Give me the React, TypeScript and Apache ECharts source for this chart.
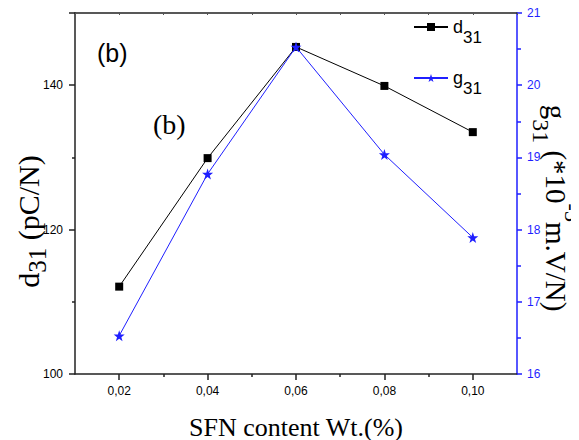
import React, { useEffect, useRef } from "react";
import * as echarts from "echarts";

const xValues = [0.02, 0.04, 0.06, 0.08, 0.1];
const d31Values = [112.1, 129.9, 145.3, 139.9, 133.5];
const g31Values = [16.53, 18.77, 20.53, 19.04, 17.89];
const xMajorTicks = [0.02, 0.04, 0.06, 0.08, 0.1];
const xMinorTicks = [0.03, 0.05, 0.07, 0.09];

const BLUE = "#1f1fff";
const SERIF = "'Liberation Serif', 'Times New Roman', serif";
const SANS = "'Liberation Sans', Arial, sans-serif";

export default function App() {
  const ref = useRef<HTMLDivElement>(null);
  useEffect(() => {
    if (!ref.current) return;
    const chart = echarts.init(ref.current, null, { renderer: "svg" });
    const axisLineBlack = { show: true, lineStyle: { color: "#222", width: 1.5 } };
    chart.setOption({
      animation: false,
      backgroundColor: "#fff",
      grid: { left: 67, top: 5, right: 62, bottom: 66, containLabel: false, outerBoundsMode: "none" },
      legend: {
        orient: "vertical",
        left: 400,
        top: 5,
        itemWidth: 34,
        itemHeight: 10,
        itemGap: 23,
        data: ["d31", "g31"],
        formatter: (name: string) =>
          name === "d31" ? "{a|d}{b|31}" : "{a|g}{b|31}",
        textStyle: {
          rich: {
            a: { fontFamily: SANS, fontSize: 18, color: "#000", lineHeight: 38, verticalAlign: "middle" },
            b: { fontFamily: SANS, fontSize: 17, color: "#000", lineHeight: 38, verticalAlign: "bottom" },
          },
        },
      },
      xAxis: [
        {
          type: "value",
          position: "bottom",
          min: 0.01,
          max: 0.11,
          name: "SFN content Wt.(%)",
          nameLocation: "middle",
          nameGap: 40,
          nameMoveOverlap: false,
          nameTextStyle: { fontFamily: SERIF, fontSize: 26, color: "#000" },
          axisLine: axisLineBlack,
          axisTick: { show: true, customValues: xMajorTicks, length: 6, lineStyle: { color: "#222", width: 1.5 } },
          axisLabel: {
            show: true,
            customValues: xMajorTicks,
            margin: 11,
            fontFamily: SANS,
            fontSize: 12,
            color: "#000",
            formatter: (v: number) => v.toFixed(2).replace(".", ","),
          },
          splitLine: { show: false },
        },
        {
          type: "value",
          position: "bottom",
          min: 0.01,
          max: 0.11,
          axisLine: { show: false },
          axisTick: { show: true, customValues: xMinorTicks, length: 3, lineStyle: { color: "#222", width: 1.5 } },
          axisLabel: { show: false },
          splitLine: { show: false },
        },
        {
          type: "value",
          position: "top",
          min: 0.01,
          max: 0.11,
          interval: 0.01,
          axisLine: axisLineBlack,
          axisTick: { show: true, inside: true, length: 2, lineStyle: { color: "#555", width: 1 } },
          axisLabel: { show: false },
          splitLine: { show: false },
        },
      ],
      yAxis: [
        {
          type: "value",
          position: "left",
          min: 100,
          max: 150,
          interval: 20,
          name: "{m|d}{s|31}{m| (pC/N)}",
          nameLocation: "middle",
          nameRotate: 90,
          nameGap: 25,
          nameMoveOverlap: false,
          nameTextStyle: {
            padding: [0, 56, 0, 0],
            rich: {
              m: { fontFamily: SERIF, fontSize: 30, color: "#000", lineHeight: 44, verticalAlign: "middle" },
              s: { fontFamily: SERIF, fontSize: 25, color: "#000", lineHeight: 44, verticalAlign: "bottom" },
            },
          },
          axisLine: axisLineBlack,
          axisTick: { show: true, length: 6, lineStyle: { color: "#222", width: 1.5 } },
          minorTick: { show: true, splitNumber: 2, length: 3, lineStyle: { color: "#222", width: 1.5 } },
          axisLabel: { margin: 12, fontFamily: SANS, fontSize: 12, color: "#000", showMaxLabel: false },
          splitLine: { show: false },
          minorSplitLine: { show: false },
        },
        {
          type: "value",
          position: "right",
          min: 16,
          max: 21,
          interval: 1,
          name: "{m|g}{s|31}{m| (*10}{p|-3}{m|m.V/N)}",
          nameLocation: "middle",
          nameRotate: -90,
          nameGap: 12,
          nameMoveOverlap: false,
          nameTextStyle: {
            padding: [0, 0, 0, 29],
            rich: {
              m: { fontFamily: SERIF, fontSize: 29, color: "#000", lineHeight: 54, verticalAlign: "middle" },
              s: { fontFamily: SERIF, fontSize: 24, color: "#000", lineHeight: 54, verticalAlign: "bottom" },
              p: { fontFamily: SERIF, fontSize: 22, color: "#000", lineHeight: 30, verticalAlign: "top" },
            },
          },
          axisLine: { show: true, lineStyle: { color: BLUE, width: 1.5 } },
          axisTick: { show: true, length: 5, lineStyle: { color: BLUE, width: 1.5 } },
          minorTick: { show: true, splitNumber: 2, length: 4, lineStyle: { color: BLUE, width: 1.5 } },
          axisLabel: { margin: 10, fontFamily: SANS, fontSize: 12, color: BLUE },
          splitLine: { show: false },
          minorSplitLine: { show: false },
        },
      ],
      series: [
        {
          name: "d31",
          type: "line",
          xAxisIndex: 0,
          yAxisIndex: 0,
          data: xValues.map((x, i) => [x, d31Values[i]]),
          symbol: "rect",
          symbolSize: 8,
          lineStyle: { color: "#000", width: 1 },
          itemStyle: { color: "#000" },
        },
        {
          name: "g31",
          type: "line",
          xAxisIndex: 0,
          yAxisIndex: 1,
          data: xValues.map((x, i) => [x, g31Values[i]]),
          symbol: "path://M50,0 L61.8,35.1 L98.1,35.1 L68.8,56.7 L79.4,90.5 L50,69.6 L20.6,90.5 L31.2,56.7 L1.9,35.1 L38.2,35.1 Z",
          symbolSize: 11,
          lineStyle: { color: BLUE, width: 1 },
          itemStyle: { color: BLUE },
        },
      ],
      graphic: [
        {
          type: "text",
          left: 89,
          top: 32,
          style: { text: "(b)", fontFamily: SANS, fontSize: 25, fill: "#000" },
        },
        {
          type: "text",
          left: 145,
          top: 102,
          style: { text: "(b)", fontFamily: SERIF, fontSize: 28, fill: "#000" },
        },
      ],
    });
    return () => chart.dispose();
  }, []);
  return <div ref={ref} style={{ width: 571, height: 432 }} />;
}
